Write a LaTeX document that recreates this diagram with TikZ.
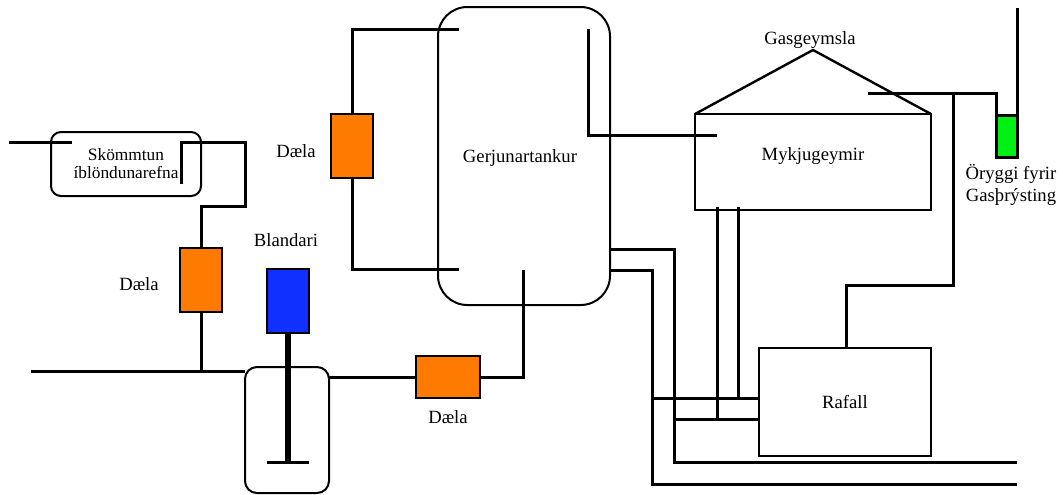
\documentclass[tikz,border=0pt]{standalone}
\usepackage{fontspec}
\setmainfont{Liberation Serif}
\tikzset{every picture/.style={line width=0.75pt}}
\tikzset{
  pipe/.style={line width=2.25},
  tank/.style={draw,line width=1.5,rounded corners=#1,inner sep=0,outer sep=0},
  tank/.default=7.5pt,
  box/.style={draw,line width=1.5,inner sep=0,outer sep=0,minimum width=#1},
  label/.style={font=\fontsize{14}{16.5}\selectfont,align=center,inner sep=0},
  pumpv/.style={box=31.5pt,minimum height=48pt,fill=pumporange},
  pumph/.style={box=48pt,minimum height=32pt,fill=pumporange}
}
\definecolor{pumporange}{RGB}{255,122,0}
\definecolor{mixerblue}{RGB}{16,48,255}
\definecolor{safegreen}{RGB}{0,240,20}

\begin{document}
\begin{tikzpicture}[x=0.75pt,y=0.75pt,yscale=-1,xscale=1]
\useasboundingbox (0,0) rectangle (1063,494);

%Rounded Rect
\node [tank=7.5pt,minimum width=112.5pt,minimum height=48pt] (dosing) at (126,164) {};
\node [tank=22pt,minimum width=129pt,minimum height=223.5pt] (fermenter) at (524,156) {};
\node [tank=9pt,minimum width=63pt,minimum height=94.5pt] (mixer) at (287,430) {};
%Shape: Rectangle
\node [box=177pt,minimum height=72pt] (manure) at (813,162) {};
\node [box=129pt,minimum height=81pt] (generator) at (845,402) {};
\node [pumpv] (pumpdose) at (201,280) {};
\node [pumpv] (pumptop) at (352,146) {};
\node [pumph] (pumpfeed) at (448,377) {};
\node [box=31.5pt,minimum height=48pt,fill=mixerblue] (motor) at (287.5,301) {};
\node [box=15.75pt,minimum height=31.5pt,fill=safegreen,line width=2.25] (safety) at (1006.5,136) {};

%Coordinates
\coordinate (doseout) at (181,184);
\coordinate (dosein) at (72,142);
\coordinate (dosestart) at (9,142);
\coordinate (feedstart) at (31,371);
\coordinate (feedtap) at (201,371);
\coordinate (feedend) at (245,371);
\coordinate (mixerout) at (329,377);
\coordinate (fermin) at (523,270);
\coordinate (topin) at (459,29);
\coordinate (lowin) at (459,269);
\coordinate (overflow) at (588,29);
\coordinate (manurein) at (717,135);
\coordinate (roof) at (813,50);
\coordinate (gasin) at (868,93);
\coordinate (gastap) at (953,93);
\coordinate (gensupply) at (846,348);
\coordinate (vent) at (1017,8);
\coordinate (heatouta) at (610,249);
\coordinate (heatoutb) at (610,270);
\coordinate (heatenda) at (1017,462);
\coordinate (heatendb) at (1017,484);
\coordinate (shaftend) at (287.5,462);

%Straight Lines
\draw [pipe]    (dosestart) -- (dosein) ;
\draw [pipe]    (doseout) -- (181,142) -- (245,142) -- (245,206) -- (201,206) -- (pumpdose.north) ;
\draw [pipe]    (pumpdose.south) -- (feedtap) ;
\draw [pipe]    (feedstart) -- (feedend) ;
\draw [line width=4.5]    (motor.south) -- (shaftend) ;
\draw [pipe]    (267,462) -- (shaftend) -- (309,462) ;
\draw [pipe]    (mixerout) -- (pumpfeed.west) ;
\draw [pipe]    (pumpfeed.east) -- (523,377) -- (fermin) ;
\draw [pipe]    (pumptop.north) -- (352,29) -- (topin) ;
\draw [pipe]    (pumptop.south) -- (352,269) -- (lowin) ;
\draw [pipe]    (overflow) -- (588,135) -- (manurein) ;
\draw [line width=1.8]    (manure.north west) -- (roof) -- (manure.north east) ;
\draw [pipe]    (gasin) -- (996,93) -- (safety.north west) ;
\draw [pipe]    (gastap) -- (953,285) -- (846,285) -- (gensupply) ;
\draw [pipe]    (vent) -- (safety.north east) ;
\draw [pipe]    (heatouta) -- (674,249) -- (674,462) -- (heatenda) ;
\draw [pipe]    (heatoutb) -- (652,270) -- (652,484) -- (heatendb) ;
\draw [pipe]    (652,398) -- (759,398) ;
\draw [pipe]    (674,419) -- (759,419) ;
\draw [pipe]    (717,207) -- (717,419) ;
\draw [pipe]    (738,207) -- (738,398) ;

%Text
\node [label,font=\fontsize{13}{13.5}\selectfont] (dosinglabel) at (126,164) {Skömmtun\\íblöndunarefna};
\node [label] (pumpdoselabel) at (139,284) {Dæla};
\node [label] (pumptoplabel) at (296,151) {Dæla};
\node [label] (pumpfeedlabel) at (448,417) {Dæla};
\node [label] (motorlabel) at (286,240) {Blandari};
\node [label] (fermenterlabel) at (520,158) {Gerjunartankur};
\node [label] (manurelabel) at (813,156) {Mykjugeymir};
\node [label] (rooflabel) at (810,40) {Gasgeymsla};
\node [label] (generatorlabel) at (845,402) {Rafall};
\node [label] (safetylabel) at (1011,185) {Öryggi fyrir\\Gasþrýsting};

\end{tikzpicture}
\end{document}
